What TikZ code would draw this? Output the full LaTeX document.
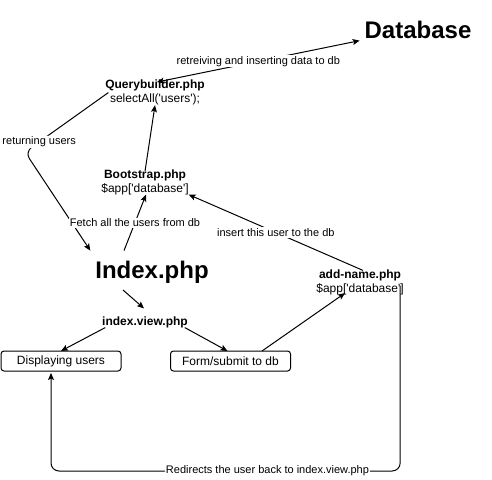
\documentclass[tikz,border=0pt]{standalone}
\usepackage{fontspec}
\newfontfamily\libsans{Liberation Sans}
\usetikzlibrary{arrows.meta}
\begin{document}
\begin{tikzpicture}[x=1pt,y=-1pt,
  every node/.style={inner sep=0pt, outer sep=0pt},
  txt/.style={font=\libsans\fontsize{12}{14}\selectfont, align=center},
  big/.style={font=\libsans\fontsize{24}{28}\selectfont\bfseries},
  lbl/.style={font=\libsans\fontsize{11}{13}\selectfont, fill=white, inner sep=1pt},
  box/.style={draw, line width=1pt, rounded corners=3pt, minimum width=120pt, minimum height=20pt, font=\libsans\fontsize{12}{14}\selectfont},
  conn/.style={line width=1pt, -{Stealth[length=7pt,width=6pt,inset=1.5pt]}},
  biconn/.style={line width=1pt, {Stealth[length=7pt,width=6pt,inset=1.5pt]}-{Stealth[length=7pt,width=6pt,inset=1.5pt]}}
]
\useasboundingbox[fill=white] (0,0) rectangle (492,479);

\node[big] (db) at (418,29.8) {Database};
\node[txt] (qb) at (155,92.6) {\textbf{Querybuilder.php}\\selectAll('users');};
\node[txt] (bs) at (145,182) {\textbf{Bootstrap.php}\\\$app['database']};
\node[big] (idx) at (152,271.8) {Index.php};
\node[txt] (an) at (360,282) {\textbf{add-name.php}\\\$app['database']};
\node[txt] (iv) at (145,322) {\textbf{index.view.php}};
\node[box] (disp) at (61,361) {Displaying users};
\node[box] (form) at (230.5,361) {Form/submit to db};

% Querybuilder <-> Database
\draw[biconn] ([xshift=2pt,yshift=-2pt]qb.north) -- node[lbl]{retreiving and inserting data to db} ([xshift=-5pt,yshift=-2pt]db.south west);

% Querybuilder -> Index (returning users)
\coordinate (bend) at (25,152);
\draw[conn, rounded corners=8pt] ([xshift=3pt]qb.west) -- node[lbl, pos=0.83]{returning users} (bend) -- ([xshift=-5pt,yshift=10pt]idx.north west);

% Bootstrap -> Querybuilder
\draw[conn] ([yshift=-2pt]bs.north) -- (qb.south);

% Index -> Bootstrap
\draw[conn] ([xshift=-28pt,yshift=10pt]idx.north) -- node[lbl]{Fetch all the users from db} ([xshift=1pt]bs.south);

% add-name -> Bootstrap
\draw[conn] ([xshift=3pt,yshift=-1pt]an.north) -- node[lbl]{insert this user to the db} (bs.south east);

% Index -> index.view
\draw[conn] ([xshift=-29pt,yshift=-7pt]idx.south) -- ([xshift=-1pt,yshift=8pt]iv.north);

% index.view -> boxes
\draw[conn] ([xshift=3pt]iv.south west) -- (disp.north);
\draw[conn] ([xshift=-3pt]iv.south east) -- ([xshift=-3pt]form.north);

% Form -> add-name
\draw[conn] ([xshift=31.5pt]form.north) -- ([xshift=-15pt,yshift=1.5pt]an.south);

% add-name -> Displaying users (redirect)
\coordinate (rs) at ([xshift=-3.5pt,yshift=9pt]an.south east);
\coordinate (re) at ([xshift=-10pt,yshift=-2pt]disp.south);
\draw[conn, rounded corners=8pt] (rs) -- (rs |- 0,471) -- node[lbl, pos=0.38]{Redirects the user back to index.view.php} (re |- 0,471) -- (re);
\end{tikzpicture}
\end{document}
